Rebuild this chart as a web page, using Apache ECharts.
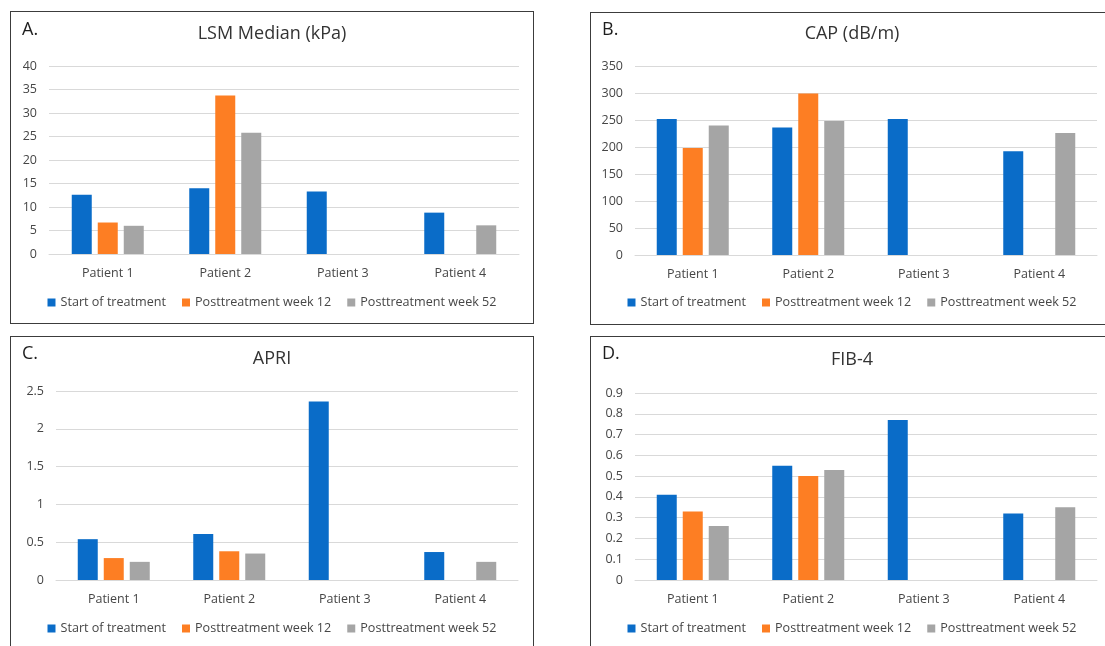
<!DOCTYPE html>
<html>
<head>
<meta charset="utf-8">
<script src="https://cdn.jsdelivr.net/npm/echarts@6/dist/echarts.min.js"></script>
<style>
  html, body { margin: 0; padding: 0; background: #fff; }
  body { width: 1105px; height: 646px; overflow: hidden; position: relative; }
  .panel {
    position: absolute;
    box-sizing: border-box;
    border: 1px solid #3c3c3c;
    background: #fff;
    width: 524px;
    height: 313px;
  }
</style>
</head>
<body>
<div id="pA" class="panel" style="left:10px;top:11px"></div>
<div id="pB" class="panel" style="left:590px;top:12px"></div>
<div id="pC" class="panel" style="left:10px;top:336px"></div>
<div id="pD" class="panel" style="left:590px;top:336px"></div>
<script>
const patients = ["Patient 1", "Patient 2", "Patient 3", "Patient 4"];
const seriesNames = ["Start of treatment", "Posttreatment week 12", "Posttreatment week 52"];
const colors = ["#0a6cc8", "#fd7e23", "#a5a5a5"];

// A. LSM median (kPa)
const lsmStart = [12.6, 14.0, 13.3, 8.8];
const lsmWeek12 = [6.7, 33.7, null, null];
const lsmWeek52 = [6.0, 25.8, null, 6.1];

// B. CAP (dB/m)
const capStart = [252, 236, 252, 192];
const capWeek12 = [198, 299, null, null];
const capWeek52 = [240, 248, null, 226];

// C. APRI
const apriStart = [0.54, 0.61, 2.36, 0.37];
const apriWeek12 = [0.29, 0.38, null, null];
const apriWeek52 = [0.24, 0.35, null, 0.24];

// D. FIB-4
const fibStart = [0.41, 0.55, 0.77, 0.32];
const fibWeek12 = [0.33, 0.50, null, null];
const fibWeek52 = [0.26, 0.53, null, 0.35];

const FONT = "'Open Sans', 'Noto Sans', sans-serif";
const TEXT = "#464646";
const GRIDC = "#d9d9d9";

function makeOption(cfg) {
  const data = [cfg.start, cfg.week12, cfg.week52];
  return {
    animation: false,
    backgroundColor: "#fff",
    textStyle: { fontFamily: FONT },
    title: [
      {
        text: cfg.title, left: "center", top: cfg.titleTop, padding: 0,
        textStyle: { fontFamily: FONT, fontSize: 18, fontWeight: "normal", color: "#333" },
      },
      {
        text: cfg.letter, left: 11, top: cfg.letterTop, padding: 0,
        textStyle: { fontFamily: FONT, fontSize: 18, fontWeight: "normal", color: "#1e1e1e" },
      },
    ],
    legend: {
      data: seriesNames,
      left: "center",
      top: cfg.legendTop,
      padding: 0,
      icon: "rect",
      itemWidth: 8,
      itemHeight: 8,
      itemGap: 16,
      textStyle: { fontFamily: FONT, fontSize: 12.6, color: TEXT },
    },
    grid: cfg.grid,
    xAxis: {
      type: "category",
      data: patients,
      axisLine: { lineStyle: { color: GRIDC, width: 1 } },
      axisTick: { show: false },
      axisLabel: { color: TEXT, fontSize: 12.5, fontFamily: FONT, margin: 13 },
    },
    yAxis: {
      type: "value",
      min: 0,
      max: cfg.max,
      interval: cfg.interval,
      axisLine: { show: false },
      axisTick: { show: false },
      axisLabel: { color: TEXT, fontSize: 12.5, fontFamily: FONT, margin: 12 },
      splitLine: { lineStyle: { color: GRIDC, width: 1 } },
    },
    series: seriesNames.map((name, i) => ({
      name,
      type: "bar",
      data: data[i],
      barWidth: 20,
      barGap: "30%",
      itemStyle: { color: colors[i] },
    })),
  };
}

const panels = [
  {
    id: "pA", title: "LSM Median (kPa)", letter: "A.", start: lsmStart, week12: lsmWeek12, week52: lsmWeek52,
    max: 40, interval: 5, titleTop: 13, letterTop: 9, legendTop: 284,
    grid: { left: 38, right: 14, top: 54, height: 188 },
  },
  {
    id: "pB", title: "CAP (dB/m)", letter: "B.", start: capStart, week12: capWeek12, week52: capWeek52,
    max: 350, interval: 50, titleTop: 12, letterTop: 8, legendTop: 283,
    grid: { left: 44, right: 16, top: 53, height: 189 },
  },
  {
    id: "pC", title: "APRI", letter: "C.", start: apriStart, week12: apriWeek12, week52: apriWeek52,
    max: 2.5, interval: 0.5, titleTop: 13, letterTop: 8, legendTop: 285,
    grid: { left: 45, right: 15, top: 54, height: 189 },
  },
  {
    id: "pD", title: "FIB-4", letter: "D.", start: fibStart, week12: fibWeek12, week52: fibWeek52,
    max: 0.9, interval: 0.1, titleTop: 14, letterTop: 8, legendTop: 285,
    grid: { left: 44, right: 16, top: 56, height: 187 },
  },
];

panels.forEach((p) => {
  const chart = echarts.init(document.getElementById(p.id), null, { renderer: "canvas" });
  chart.setOption(makeOption(p));
});
</script>
</body>
</html>
